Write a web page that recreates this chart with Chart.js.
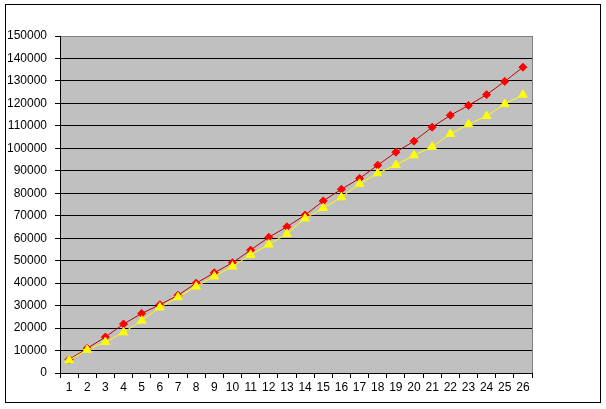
<!DOCTYPE html>
<html>
<head>
<meta charset="utf-8">
<script src="https://cdn.jsdelivr.net/npm/chart.js@4/dist/chart.umd.min.js"></script>
<style>
  html, body { margin: 0; padding: 0; background: #fff; }
  canvas { display: block; }
</style>
</head>
<body>
<canvas id="chart" width="606" height="409"></canvas>
<script>
(function () {
  'use strict';

  // x categories 1..26
  const categories = ['1', '2', '3', '4', '5', '6', '7', '8', '9', '10', '11', '12', '13',
    '14', '15', '16', '17', '18', '19', '20', '21', '22', '23', '24', '25', '26'];

  // red diamonds
  const redValues = [6000, 11000, 16000, 21800, 26500, 30400, 34600, 40000, 44600, 49100,
    54700, 60400, 65100, 70300, 76600, 81800, 86600, 92500, 98300, 103200,
    109400, 114700, 119100, 123900, 129800, 136100];

  // yellow triangles
  const yellowValues = [5700, 10300, 13800, 18100, 23300, 29200, 33700, 38500, 43000, 47400,
    52600, 57200, 61900, 68800, 73400, 78200, 84200, 88900, 92600, 96900,
    100700, 106400, 110700, 114400, 119700, 123900];

  const yMin = 0;
  const yMax = 150000;
  const yStep = 10000;

  // plot area background, gray frame and outer black border
  const frame = {
    id: 'frame',
    beforeDraw(chart) {
      const { ctx, chartArea: a } = chart;
      ctx.save();
      ctx.fillStyle = '#fff';
      ctx.fillRect(0, 0, chart.width, chart.height);
      ctx.fillStyle = '#C0C0C0';
      ctx.fillRect(a.left, a.top, a.right - a.left, a.bottom - a.top);
      ctx.strokeStyle = '#808080';
      ctx.lineWidth = 1;
      ctx.strokeRect(Math.round(a.left) + 0.5, Math.round(a.top) + 0.5,
        Math.round(a.right - a.left), Math.round(a.bottom - a.top));
      ctx.strokeStyle = '#000';
      ctx.strokeRect(5.5, 4.5, 595, 398);
      ctx.restore();
    }
  };

  new Chart(document.getElementById('chart'), {
    type: 'line',
    data: {
      labels: categories,
      datasets: [
        {
          label: 'Series 1',
          data: redValues,
          borderColor: '#C00000',
          borderWidth: 1,
          backgroundColor: '#FF0000',
          pointStyle: 'rectRot',
          pointRadius: 4,
          pointBorderWidth: 1,
          pointBorderColor: '#FF0000',
          pointBackgroundColor: '#FF0000',
          tension: 0,
          order: 1
        },
        {
          label: 'Series 2',
          data: yellowValues,
          borderColor: '#FFFF00',
          borderWidth: 1,
          backgroundColor: '#FFFF00',
          pointStyle: 'triangle',
          pointRadius: 5,
          pointBorderWidth: 1,
          pointBorderColor: '#FFFF00',
          pointBackgroundColor: '#FFFF00',
          tension: 0,
          order: 0
        }
      ]
    },
    options: {
      responsive: false,
      animation: false,
      layout: { padding: { left: 0, top: 36, right: 74, bottom: 0 } },
      plugins: {
        legend: { display: false },
        tooltip: { enabled: false }
      },
      scales: {
        x: {
          offset: true,
          grid: {
            offset: true,
            drawOnChartArea: false,
            drawTicks: true,
            tickLength: 5,
            tickColor: '#000'
          },
          border: { color: '#000', width: 1 },
          ticks: {
            color: '#000',
            font: { family: '"Liberation Sans", Arial, sans-serif', size: 12 },
            padding: 2,
            maxRotation: 0,
            autoSkip: false
          },
          afterFit: (scale) => { scale.height = 36; }
        },
        y: {
          min: yMin,
          max: yMax,
          grid: {
            color: (c) => (c.tick && c.tick.value === yMax ? '#808080' : '#000'),
            tickColor: '#000',
            tickLength: 5,
            lineWidth: 1
          },
          border: { color: '#000', width: 1 },
          ticks: {
            stepSize: yStep,
            color: '#000',
            font: { family: '"Liberation Sans", Arial, sans-serif', size: 12 },
            padding: 8,
            callback: (v) => String(v)
          },
          afterFit: (scale) => { scale.width = 60; }
        }
      }
    },
    plugins: [frame]
  });
})();
</script>
</body>
</html>
